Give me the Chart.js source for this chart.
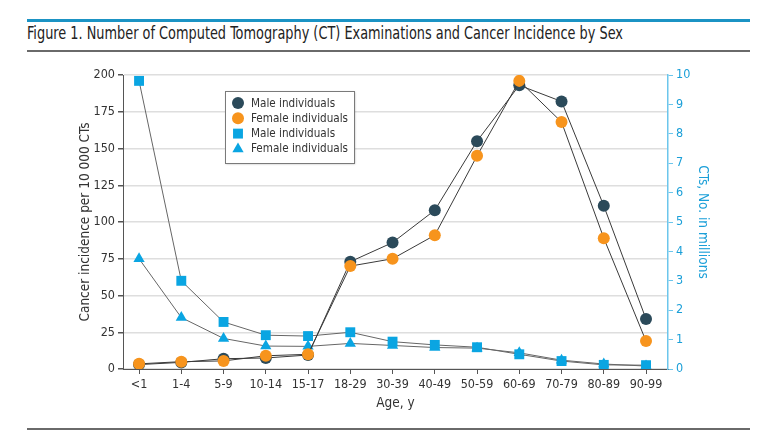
<!DOCTYPE html>
<html><head><meta charset="utf-8">
<script src="https://cdn.jsdelivr.net/npm/chart.js@4.4.1/dist/chart.umd.min.js"></script>
<style>
html,body{margin:0;padding:0;background:#fff;}
#wrap{position:relative;width:760px;height:435px;overflow:hidden;background:#fff;}
#c{position:absolute;left:0;top:0;width:760px;height:435px;}
.rule{position:absolute;left:27px;width:723px;}
#title{position:absolute;left:27px;top:25px;font-size:17.5px;line-height:17px;color:#222;white-space:nowrap;transform-origin:0 0;
font-family:'Liberation Sans Narrow','DejaVu Sans Condensed','Roboto Condensed',Roboto,sans-serif;}
</style></head>
<body><div id="wrap">
<div class="rule" style="top:19px;height:3px;background:#1b93c4"></div>
<div id="title">Figure 1. Number of Computed Tomography (CT) Examinations and Cancer Incidence by Sex</div>
<div class="rule" style="top:50px;height:2px;background:#6a6a6a"></div>
<canvas id="c" width="760" height="435"></canvas>
<div class="rule" style="top:428px;height:2px;background:#6a6a6a"></div>
</div>
<script>
const ageGroups = ['<1','1-4','5-9','10-14','15-17','18-29','30-39','40-49','50-59','60-69','70-79','80-89','90-99'];
const maleIncidence   = [3, 4.5, 7, 7.5, 9.5, 73, 86, 108, 155, 193, 182, 111, 34];
const femaleIncidence = [3.5, 5, 5.5, 9, 10, 70, 75, 91, 145, 196, 168, 89, 19];
const maleCTs   = [9.8, 3.0, 1.6, 1.15, 1.12, 1.25, 0.93, 0.82, 0.74, 0.5, 0.27, 0.14, 0.13];
const femaleCTs = [3.75, 1.75, 1.04, 0.78, 0.77, 0.87, 0.8, 0.73, 0.71, 0.55, 0.3, 0.17, 0.1];
const leftTicks = [0,25,50,75,100,125,150,175,200];
const rightTicks = [0,1,2,3,4,5,6,7,8,9,10];

const FONT = "'Liberation Sans Narrow','DejaVu Sans Condensed','Roboto Condensed',Roboto,sans-serif";

// fit title width
const t = document.getElementById('title');
const tw = t.getBoundingClientRect().width;
t.style.transform = 'scaleX(' + (596/tw) + ')';

const toXY = arr => arr.map((v,i)=>({x:i,y:v}));

const legendPlugin = {
  id:'boxLegend',
  afterDraw(chart){
    const ctx = chart.ctx;
    const x0=225, y0=91, w=129, h=72;
    ctx.save();
    ctx.shadowColor='rgba(0,0,0,0.3)'; ctx.shadowOffsetX=1; ctx.shadowOffsetY=1; ctx.shadowBlur=2;
    ctx.fillStyle='#fff'; ctx.fillRect(x0,y0,w,h);
    ctx.shadowColor='transparent'; ctx.shadowBlur=0; ctx.shadowOffsetX=0; ctx.shadowOffsetY=0;
    ctx.strokeStyle='#7a7a7a'; ctx.lineWidth=1; ctx.strokeRect(x0+0.5,y0+0.5,w,h);
    chart.data.datasets.forEach((ds,i)=>{
      const y = 103 + i*15.3;
      ctx.fillStyle = ds.pointBackgroundColor;
      Chart.helpers.drawPoint(ctx,{pointStyle:ds.pointStyle, radius:ds.pointRadius, borderWidth:0, rotation:0}, 238, y);
      ctx.fillStyle='#333';
      ctx.font = "11.6px " + FONT;
      ctx.textBaseline='middle'; ctx.textAlign='left';
      ctx.fillText(ds.label, 251, y+0.5);
    });
    ctx.restore();
  }
};

new Chart(document.getElementById('c'), {
  type:'line',
  data:{datasets:[
    {label:'Male individuals', data:toXY(maleIncidence), yAxisID:'y', order:1,
     borderColor:'#3a3a3a', borderWidth:1, pointStyle:'circle', pointRadius:6, pointBackgroundColor:'#2b4a5a', pointBorderWidth:0},
    {label:'Female individuals', data:toXY(femaleIncidence), yAxisID:'y', order:0,
     borderColor:'#3a3a3a', borderWidth:1, pointStyle:'circle', pointRadius:6, pointBackgroundColor:'#f7941d', pointBorderWidth:0},
    {label:'Male individuals', data:toXY(maleCTs), yAxisID:'y2', order:2,
     borderColor:'#666', borderWidth:1, pointStyle:'rect', pointRadius:7, pointBackgroundColor:'#0aa5e2', pointBorderWidth:0},
    {label:'Female individuals', data:toXY(femaleCTs), yAxisID:'y2', order:3,
     borderColor:'#666', borderWidth:1, pointStyle:'triangle', pointRadius:6.5, pointBackgroundColor:'#0aa5e2', pointBorderWidth:0}
  ]},
  options:{
    responsive:false, animation:false, devicePixelRatio:1,
    layout:{padding:{left:73,right:45,top:75,bottom:19}},
    plugins:{legend:{display:false}, tooltip:{enabled:false}},
    elements:{line:{tension:0, fill:false}},
    scales:{
      x:{type:'linear', min:-0.38, max:12.52,
        afterBuildTicks:s=>{s.ticks = ageGroups.map((_,i)=>({value:i}));},
        afterFit:s=>{s.height=47;},
        ticks:{callback:(v)=>ageGroups[v], color:'#333', font:{family:FONT,size:12.5}, padding:3, autoSkip:false, maxRotation:0},
        grid:{drawOnChartArea:false, drawTicks:true, tickLength:5, tickColor:'#555'},
        border:{display:true, color:'#555', width:1},
        title:{display:true, text:'Age, y', color:'#333', font:{family:FONT,size:13.5}, padding:{top:4,bottom:4}}
      },
      y:{position:'left', min:0, max:200,
        afterBuildTicks:s=>{s.ticks = leftTicks.map(v=>({value:v}));},
        afterFit:s=>{s.width=50;},
        ticks:{color:'#333', font:{family:FONT,size:12.5}, padding:3},
        grid:{color:'#dedede', lineWidth:1.5, tickColor:'#555', tickLength:5, drawOnChartArea:true},
        border:{display:true, color:'#555', width:1},
        title:{display:true, text:'Cancer incidence per 10 000 CTs', color:'#333', font:{family:FONT,size:13.5}, padding:{top:4,bottom:4}}
      },
      y2:{position:'right', min:0, max:10,
        afterBuildTicks:s=>{s.ticks = rightTicks.map(v=>({value:v}));},
        afterFit:s=>{s.width=47;},
        ticks:{color:'#1a9fd8', font:{family:FONT,size:12.5}, padding:3},
        grid:{drawOnChartArea:false, tickColor:'#6cc6ec', tickLength:5},
        border:{display:true, color:'#6cc6ec', width:1.5},
        title:{display:true, text:'CTs, No. in millions', color:'#1a9fd8', font:{family:FONT,size:13.5}, padding:{top:4,bottom:4}}
      }
    }
  },
  plugins:[legendPlugin]
});
</script>
</body></html>
